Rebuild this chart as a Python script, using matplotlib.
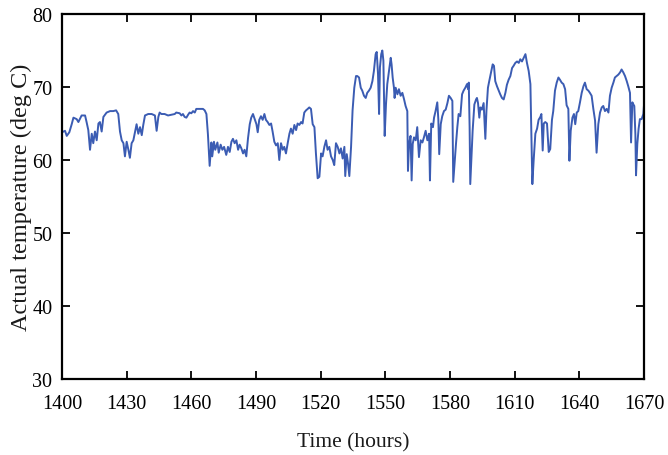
import matplotlib
matplotlib.use("Agg")
import matplotlib.pyplot as plt

# ---- data ----
hours = [
    1400.0, 1401.4, 1402.2, 1403.4, 1404.5, 1405.3, 1406.8, 1407.6, 1409.1, 1410.7,
    1411.4, 1412.2, 1413.0, 1413.8, 1414.5, 1415.3, 1416.1, 1416.9, 1417.6, 1418.4,
    1419.2, 1420.7, 1422.3, 1423.8, 1425.1, 1426.1, 1426.9, 1427.7, 1428.5, 1429.2,
    1430.0, 1430.8, 1431.5, 1432.3, 1433.1, 1433.9, 1434.6, 1435.4, 1436.2, 1437.0,
    1437.7, 1438.5, 1440.0, 1441.6, 1443.1, 1443.9, 1444.7, 1445.3, 1446.1, 1447.6,
    1449.2, 1450.7, 1452.3, 1453.0, 1454.6, 1455.4, 1456.1, 1456.9, 1457.7, 1458.5,
    1459.2, 1460.0, 1460.8, 1461.6, 1462.3, 1463.9, 1465.4, 1466.2, 1467.0, 1467.7,
    1468.5, 1469.3, 1469.7, 1470.5, 1471.1, 1472.1, 1472.7, 1473.6, 1474.4, 1475.2,
    1476.2, 1477.0, 1477.8, 1478.6, 1479.3, 1480.1, 1480.9, 1481.7, 1482.4, 1483.2,
    1484.0, 1484.7, 1485.5, 1486.3, 1487.1, 1487.8, 1488.6, 1489.4, 1490.2, 1490.8,
    1491.5, 1492.3, 1493.1, 1493.9, 1494.6, 1495.4, 1496.2, 1497.0, 1497.7, 1498.5,
    1499.3, 1500.1, 1500.8, 1501.6, 1502.4, 1503.1, 1503.9, 1504.7, 1505.5, 1506.2,
    1507.0, 1507.8, 1508.6, 1509.3, 1510.1, 1510.9, 1511.6, 1512.4, 1513.2, 1514.0,
    1514.7, 1515.5, 1516.3, 1517.1, 1517.8, 1518.6, 1519.4, 1520.2, 1520.9, 1521.7,
    1522.5, 1523.2, 1524.0, 1524.8, 1525.6, 1526.3, 1527.1, 1527.9, 1528.7, 1529.4,
    1530.2, 1531.0, 1531.4, 1532.1, 1532.7, 1533.3, 1534.1, 1534.8, 1535.6, 1536.4,
    1537.0, 1537.8, 1538.6, 1539.3, 1540.1, 1540.9, 1541.6, 1542.4, 1543.2, 1544.0,
    1544.7, 1545.5, 1546.0, 1546.6, 1547.1, 1547.5, 1548.1, 1548.6, 1549.1, 1549.7,
    1550.3, 1550.9, 1551.7, 1552.5, 1552.9, 1553.4, 1554.0, 1554.3, 1554.8, 1555.6,
    1556.3, 1557.1, 1557.9, 1558.7, 1559.4, 1560.2, 1560.5, 1561.0, 1561.7, 1562.2,
    1562.7, 1563.3, 1564.1, 1564.8, 1565.6, 1566.4, 1567.2, 1567.9, 1568.7, 1569.5,
    1570.3, 1570.7, 1571.3, 1572.1, 1572.6, 1573.3, 1574.1, 1574.6, 1575.0, 1575.7,
    1576.4, 1577.2, 1578.0, 1578.8, 1579.5, 1580.3, 1581.1, 1581.5, 1582.1, 1582.8,
    1583.4, 1584.0, 1584.8, 1585.6, 1586.3, 1587.1, 1587.9, 1588.4, 1588.7, 1589.1,
    1589.4, 1589.9, 1590.5, 1591.3, 1592.1, 1592.5, 1593.0, 1593.6, 1594.1, 1594.8,
    1595.6, 1596.4, 1596.9, 1597.6, 1598.2, 1599.2, 1599.8, 1600.4, 1601.0, 1601.8,
    1602.6, 1603.3, 1604.1, 1604.9, 1605.7, 1606.4, 1607.2, 1608.0, 1608.8, 1609.5,
    1610.3, 1611.1, 1611.9, 1612.6, 1613.4, 1614.2, 1615.0, 1615.7, 1616.5, 1617.3,
    1617.7, 1618.2, 1618.8, 1619.6, 1620.4, 1621.1, 1621.9, 1622.4, 1623.0, 1623.5,
    1624.2, 1625.0, 1625.8, 1626.5, 1627.3, 1627.9, 1628.7, 1629.5, 1630.3, 1631.0,
    1631.8, 1632.6, 1633.4, 1634.1, 1634.9, 1635.4, 1636.0, 1636.8, 1637.5, 1638.1,
    1638.8, 1639.5, 1640.3, 1641.1, 1641.9, 1642.6, 1643.4, 1644.2, 1644.9, 1645.7,
    1646.5, 1647.3, 1648.0, 1648.8, 1649.6, 1650.4, 1651.1, 1651.9, 1652.7, 1653.5,
    1654.2, 1655.0, 1655.8, 1656.5, 1657.3, 1658.1, 1658.9, 1659.6, 1660.4, 1661.2,
    1662.0, 1662.7, 1663.5, 1664.0, 1664.6, 1665.1, 1665.5, 1666.0, 1666.3, 1666.9,
    1667.5, 1668.1, 1668.9, 1669.7, 1670.0,
]

temperature = [
    63.8, 64.0, 63.3, 63.8, 64.9, 65.8, 65.6, 65.2, 66.1, 66.1,
    65.2, 64.1, 61.4, 63.6, 62.3, 63.9, 62.7, 65.0, 65.2, 63.9,
    65.9, 66.5, 66.7, 66.7, 66.8, 66.3, 63.9, 62.7, 62.3, 60.5,
    62.5, 61.4, 60.3, 62.3, 62.7, 63.9, 64.9, 63.6, 64.5, 63.4,
    64.8, 66.1, 66.3, 66.3, 66.1, 64.0, 65.9, 66.5, 66.3, 66.3,
    66.1, 66.2, 66.3, 66.5, 66.4, 66.1, 66.3, 65.9, 65.8, 66.2,
    66.5, 66.4, 66.7, 66.5, 67.0, 67.0, 67.0, 66.8, 66.3, 63.5,
    59.2, 62.4, 60.5, 62.5, 61.4, 62.4, 61.0, 62.1, 61.4, 61.8,
    60.7, 61.8, 61.1, 62.5, 62.9, 62.3, 62.7, 61.4, 62.1, 61.6,
    60.9, 61.4, 60.5, 63.0, 64.9, 65.8, 66.3, 65.6, 64.9, 63.8,
    65.5, 66.0, 65.5, 66.3, 65.5, 65.2, 64.8, 65.0, 63.9, 62.5,
    62.0, 62.3, 60.0, 62.3, 61.4, 61.8, 60.9, 62.3, 63.6, 64.3,
    63.6, 64.8, 64.1, 65.0, 64.8, 65.2, 65.0, 66.5, 66.8, 67.0,
    67.2, 67.0, 64.9, 64.5, 60.9, 57.5, 57.7, 60.9, 60.5, 61.8,
    62.7, 61.4, 61.8, 60.5, 60.0, 59.3, 62.3, 61.8, 60.9, 61.6,
    60.2, 61.8, 57.8, 60.8, 59.5, 57.8, 61.8, 66.8, 69.9, 71.5,
    71.5, 71.3, 69.9, 69.5, 68.8, 68.5, 69.2, 69.5, 69.9, 70.8,
    72.2, 74.5, 74.8, 71.8, 66.3, 72.7, 74.5, 75.0, 73.6, 63.3,
    67.6, 70.4, 72.2, 74.0, 73.1, 71.3, 69.9, 68.5, 69.9, 69.0,
    69.7, 68.8, 69.2, 68.3, 67.4, 66.7, 58.5, 62.2, 63.3, 57.2,
    62.2, 63.1, 62.7, 64.5, 60.4, 62.7, 62.4, 63.1, 64.0, 62.7,
    63.6, 57.2, 65.0, 64.5, 65.8, 66.7, 67.9, 65.5, 60.8, 64.9,
    66.0, 66.7, 66.9, 67.8, 68.8, 68.5, 68.1, 57.0, 59.5, 62.3,
    64.5, 66.3, 66.0, 69.0, 69.5, 69.9, 70.4, 69.7, 70.6, 64.5,
    56.7, 59.9, 64.0, 67.6, 68.3, 68.5, 67.8, 65.8, 67.2, 66.9,
    67.8, 62.9, 66.7, 69.9, 70.8, 72.2, 73.1, 72.9, 70.8, 70.1,
    69.5, 69.0, 68.5, 68.3, 69.2, 70.3, 71.0, 71.5, 72.6, 72.9,
    73.3, 73.5, 73.3, 73.8, 73.5, 74.0, 74.5, 73.3, 72.2, 70.4,
    64.0, 56.7, 59.9, 63.6, 64.3, 65.5, 65.9, 66.3, 61.3, 65.0,
    65.2, 65.0, 61.1, 61.5, 65.5, 66.7, 69.5, 70.6, 71.3, 71.0,
    70.6, 70.4, 69.7, 67.5, 67.0, 59.9, 64.0, 65.8, 66.3, 64.9,
    66.5, 66.7, 67.9, 69.2, 70.1, 70.6, 69.7, 69.5, 69.2, 68.8,
    67.0, 65.4, 61.0, 64.9, 66.5, 67.2, 67.4, 66.7, 67.0, 66.5,
    68.8, 69.9, 70.6, 71.3, 71.5, 71.7, 72.0, 72.4, 72.0, 71.5,
    70.8, 70.1, 69.2, 62.4, 67.9, 67.6, 67.4, 63.5, 57.9, 62.2,
    64.3, 65.6, 65.6, 66.3, 67.5,
]

x_ticks = [1400, 1430, 1460, 1490, 1520, 1550, 1580, 1610, 1640, 1670]
y_ticks = [30, 40, 50, 60, 70, 80]
x_label = "Time (hours)"
y_label = "Actual temperature (deg C)"

# ---- figure ----
plt.rcParams['font.family'] = ['Liberation Serif', 'DejaVu Serif']

fig = plt.figure(figsize=(6.68, 4.56), dpi=100)
ax = fig.add_axes([62/668, 1 - 380/456, (644 - 62)/668, (380 - 15)/456])

ax.plot(hours, temperature, color='#3b5cb3', linewidth=1.4)

ax.set_xlim(1400, 1670)
ax.set_ylim(30, 80)
ax.set_xticks(x_ticks)
ax.set_yticks(y_ticks)
ax.set_xticklabels([str(t) for t in x_ticks])
ax.set_yticklabels([str(t) for t in y_ticks])

ax.tick_params(direction='in', length=6, width=1.3, labelsize=14.5,
               top=True, right=True, colors='black')
ax.tick_params(axis='x', pad=11)
ax.tick_params(axis='y', pad=7)
for s in ax.spines.values():
    s.set_linewidth(1.6)
    s.set_color('black')

ax.set_xlabel(x_label, fontsize=15.5, labelpad=14, color='#1a1a1a')
ax.set_ylabel(y_label, fontsize=17.5, color='#1a1a1a')
ax.yaxis.set_label_coords(-0.052, 0.5)

fig.savefig('out.png', dpi=100)
